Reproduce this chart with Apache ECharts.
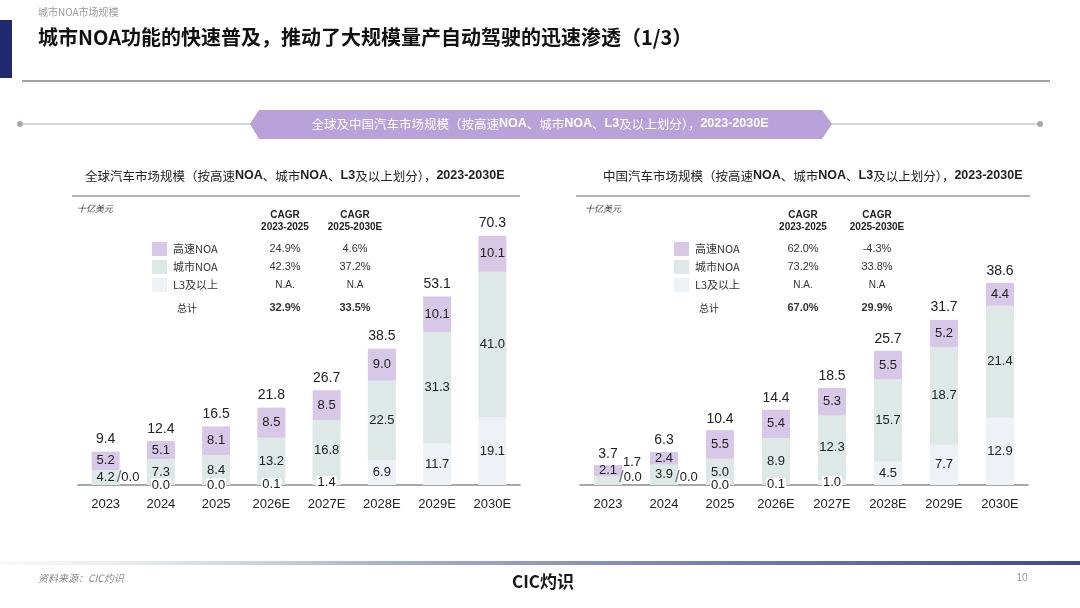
<!DOCTYPE html>
<html>
<head>
<meta charset="utf-8">
<script src="https://cdn.jsdelivr.net/npm/echarts@6/dist/echarts.min.js"></script>
<style>
  html, body { margin: 0; padding: 0; background: #fff; }
  #chart { width: 1080px; height: 608px; }
</style>
</head>
<body>
<div id="chart"></div>
<script>
const years = ['2023', '2024', '2025', '2026E', '2027E', '2028E', '2029E', '2030E'];

// 全球, 十亿美元
const globalHighway = [5.2, 5.1, 8.1, 8.5, 8.5, 9.0, 10.1, 10.1];
const globalCity = [4.2, 7.3, 8.4, 13.2, 16.8, 22.5, 31.3, 41.0];
const globalL3 = [0.0, 0.0, 0.0, 0.1, 1.4, 6.9, 11.7, 19.1];
const globalTotal = [9.4, 12.4, 16.5, 21.8, 26.7, 38.5, 53.1, 70.3];

// 中国, 十亿美元
const chinaHighway = [2.1, 2.4, 5.5, 5.4, 5.3, 5.5, 5.2, 4.4];
const chinaCity = [1.7, 3.9, 5.0, 8.9, 12.3, 15.7, 18.7, 21.4];
const chinaL3 = [0.0, 0.0, 0.0, 0.1, 1.0, 4.5, 7.7, 12.9];
const chinaTotal = [3.7, 6.3, 10.4, 14.4, 18.5, 25.7, 31.7, 38.6];

// CAGR table
const rowNames = ['高速NOA', '城市NOA', 'L3及以上', '总计'];
const globalCagrA = ['24.9%', '42.3%', 'N.A.', '32.9%'];
const globalCagrB = ['4.6%', '37.2%', 'N.A', '33.5%'];
const chinaCagrA = ['62.0%', '73.2%', 'N.A.', '67.0%'];
const chinaCagrB = ['-4.3%', '33.8%', 'N.A', '29.9%'];

const colors = ['#d6c8e6', '#dde8e7', '#eef2f6'];
const NUM_FONT = 'Liberation Sans, Arial, sans-serif';
const CJK_FONT = 'Noto Sans CJK SC, sans-serif';

// labels that sit beside the bar instead of inside
const sideL3 = [[0], [0, 1]];
const sideCity = [[], [0]];

function numLabel(extra) {
  return Object.assign({
    show: true,
    position: 'inside',
    color: '#222',
    fontSize: 13,
    fontFamily: NUM_FONT,
    formatter: p => p.value.toFixed(1)
  }, extra || {});
}

function buildSeries(gi, highway, city, l3, total) {
  const l3Data = l3.map((v, i) => {
    if (sideL3[gi].includes(i)) {
      return {
        value: v,
        label: {
          position: 'right', distance: 0, offset: [-3, -8],
          formatter: '{s|/}' + v.toFixed(1),
          rich: { s: { fontSize: 17, color: '#777', fontFamily: NUM_FONT } }
        }
      };
    }
    if (v < 2) {
      return { value: v, label: { backgroundColor: '#fff', padding: [0, 1] } };
    }
    return v;
  });
  const cityData = city.map((v, i) => {
    if (sideCity[gi].includes(i)) {
      return { value: v, label: { position: 'right', distance: 1, offset: [0, -18] } };
    }
    return v;
  });
  const common = { type: 'bar', stack: 'm' + gi, xAxisIndex: gi, yAxisIndex: gi, barWidth: 28 };
  return [
    Object.assign({ name: 'L3及以上', data: l3Data, itemStyle: { color: colors[2] }, label: numLabel() }, common),
    Object.assign({ name: '城市NOA', data: cityData, itemStyle: { color: colors[1] }, label: numLabel() }, common),
    Object.assign({ name: '高速NOA', data: highway, itemStyle: { color: colors[0] }, label: numLabel() }, common),
    {
      name: '总计', type: 'bar', xAxisIndex: gi, yAxisIndex: gi, barWidth: 28, barGap: '-100%',
      data: total, z: 1, silent: true,
      itemStyle: { color: 'rgba(0,0,0,0)' },
      label: numLabel({ position: 'top', distance: 5, fontSize: 14 })
    }
  ];
}

function txt(x, y, text, opts) {
  return {
    type: 'text', x: x, y: y, silent: true,
    style: Object.assign({
      text: text, fill: '#333', fontSize: 11, fontFamily: CJK_FONT,
      align: 'left', verticalAlign: 'middle'
    }, opts || {})
  };
}

function table(unitX, rectX, col1, col2, cagrA, cagrB) {
  const g = [];
  const head = { align: 'center', fontFamily: NUM_FONT, fontWeight: 'bold', fontSize: 10, fill: '#222' };
  g.push(txt(unitX, 209, '十亿美元', { fontSize: 9, fill: '#444', fontStyle: 'italic' }));
  g.push(txt(col1, 215, 'CAGR', head));
  g.push(txt(col1, 227, '2023-2025', head));
  g.push(txt(col2, 215, 'CAGR', head));
  g.push(txt(col2, 227, '2025-2030E', head));
  const rowY = [249, 267, 285, 308];
  rowNames.forEach((name, i) => {
    const bold = i === 3;
    if (i < 3) {
      g.push({ type: 'rect', silent: true, shape: { x: rectX, y: rowY[i] - 7, width: 15, height: 14 }, style: { fill: colors[i] } });
      g.push(txt(rectX + 21, rowY[i], name, { fontSize: 11, fill: '#333' }));
    } else {
      g.push(txt(rectX + 35, rowY[i], name, { fontSize: 10, fill: '#333', align: 'center' }));
    }
    const isNA = cagrA[i].startsWith('N.A');
    const st = { align: 'center', fontFamily: NUM_FONT, fontSize: isNA ? 10 : 11, fill: '#333', fontWeight: bold ? 'bold' : 'normal' };
    g.push(txt(col1, rowY[i], cagrA[i], st));
    g.push(txt(col2, rowY[i], cagrB[i], st));
  });
  return g;
}

// mixed text: CJK plain, latin bold
function mixed(x, y, prefix, size, color, align) {
  return {
    type: 'text', x: x, y: y, silent: true,
    style: {
      text: '{n|' + prefix + '（按高速}{b|NOA}{n|、城市}{b|NOA}{n|、}{b|L3}{n|及以上划分），}{b|2023-2030E}',
      verticalAlign: 'middle',
      align: align || 'left',
      rich: {
        n: { fontSize: size, fontFamily: CJK_FONT, fill: color, color: color },
        b: { fontSize: size, fontFamily: NUM_FONT, fontWeight: 'bold', fill: color, color: color }
      }
    }
  };
}

const graphics = [
  // header
  txt(38, 12, '城市NOA市场规模', { fontSize: 10, fill: '#9a9a9a' }),
  { type: 'rect', silent: true, shape: { x: 0, y: 20, width: 12, height: 58 }, style: { fill: '#1f2a6e' } },
  txt(38, 37, '城市NOA功能的快速普及，推动了大规模量产自动驾驶的迅速渗透（1/3）', { fontSize: 20, fontWeight: 'bold', fill: '#111' }),
  { type: 'line', silent: true, shape: { x1: 22, y1: 81, x2: 1050, y2: 81 }, style: { stroke: '#444', lineWidth: 1 } },
  // banner
  { type: 'line', silent: true, shape: { x1: 20, y1: 124, x2: 252, y2: 124 }, style: { stroke: '#c9c7d6', lineWidth: 1.5 } },
  { type: 'line', silent: true, shape: { x1: 830, y1: 124, x2: 1040, y2: 124 }, style: { stroke: '#c9c7d6', lineWidth: 1.5 } },
  { type: 'circle', silent: true, shape: { cx: 20, cy: 124, r: 3 }, style: { fill: '#a8a6ba' } },
  { type: 'circle', silent: true, shape: { cx: 1040, cy: 124, r: 3 }, style: { fill: '#a8a6ba' } },
  {
    type: 'polygon', silent: true,
    shape: { points: [[250, 124], [259, 110], [822, 110], [832, 124], [822, 139], [259, 139]] },
    style: { fill: '#b8a2d9' }
  },
  mixed(540, 124, '全球及中国汽车市场规模', 12.5, '#fff', 'center'),
  // chart subtitles
  mixed(85, 176, '全球汽车市场规模', 12.5, '#222'),
  mixed(603, 176, '中国汽车市场规模', 12.5, '#222'),
  { type: 'line', silent: true, shape: { x1: 72, y1: 196, x2: 520, y2: 196 }, style: { stroke: '#666', lineWidth: 1 } },
  { type: 'line', silent: true, shape: { x1: 576, y1: 196, x2: 1030, y2: 196 }, style: { stroke: '#666', lineWidth: 1 } },
  // footer
  {
    type: 'rect', silent: true, shape: { x: 0, y: 561, width: 1080, height: 4 },
    style: {
      fill: new echarts.graphic.LinearGradient(0, 0, 1, 0, [
        { offset: 0, color: 'rgba(225,226,236,0.2)' },
        { offset: 0.35, color: '#aab0cf' },
        { offset: 1, color: '#3d4a8f' }
      ])
    }
  },
  txt(38, 578, '资料来源：CIC灼识', { fontSize: 10, fill: '#888', fontStyle: 'italic' }),
  txt(543, 582, 'CIC灼识', { fontSize: 17, fill: '#1a1a1a', fontWeight: 'bold', align: 'center' }),
  txt(1022, 578, '10', { fontSize: 10, fill: '#999', fontFamily: NUM_FONT, align: 'center' })
].concat(
  table(77, 152, 285, 355, globalCagrA, globalCagrB),
  table(585, 674, 803, 877, chinaCagrA, chinaCagrB)
);

const xAxisCommon = {
  type: 'category',
  data: years,
  axisTick: { show: false },
  axisLine: { lineStyle: { color: '#8a8a8a', width: 1.5 } },
  axisLabel: { color: '#222', fontSize: 13, fontFamily: NUM_FONT, margin: 13 }
};
const yAxisCommon = { type: 'value', min: 0, show: false, splitLine: { show: false } };

const chart = echarts.init(document.getElementById('chart'));
chart.setOption({
  backgroundColor: '#fff',
  animation: false,
  grid: [
    { left: 78, width: 442, top: 201, height: 284 },
    { left: 580, width: 448, top: 276, height: 209 }
  ],
  xAxis: [
    Object.assign({ gridIndex: 0 }, xAxisCommon),
    Object.assign({ gridIndex: 1 }, xAxisCommon)
  ],
  yAxis: [
    Object.assign({ gridIndex: 0, max: 80 }, yAxisCommon),
    Object.assign({ gridIndex: 1, max: 40 }, yAxisCommon)
  ],
  series: buildSeries(0, globalHighway, globalCity, globalL3, globalTotal)
    .concat(buildSeries(1, chinaHighway, chinaCity, chinaL3, chinaTotal)),
  graphic: graphics
});
</script>
</body>
</html>
